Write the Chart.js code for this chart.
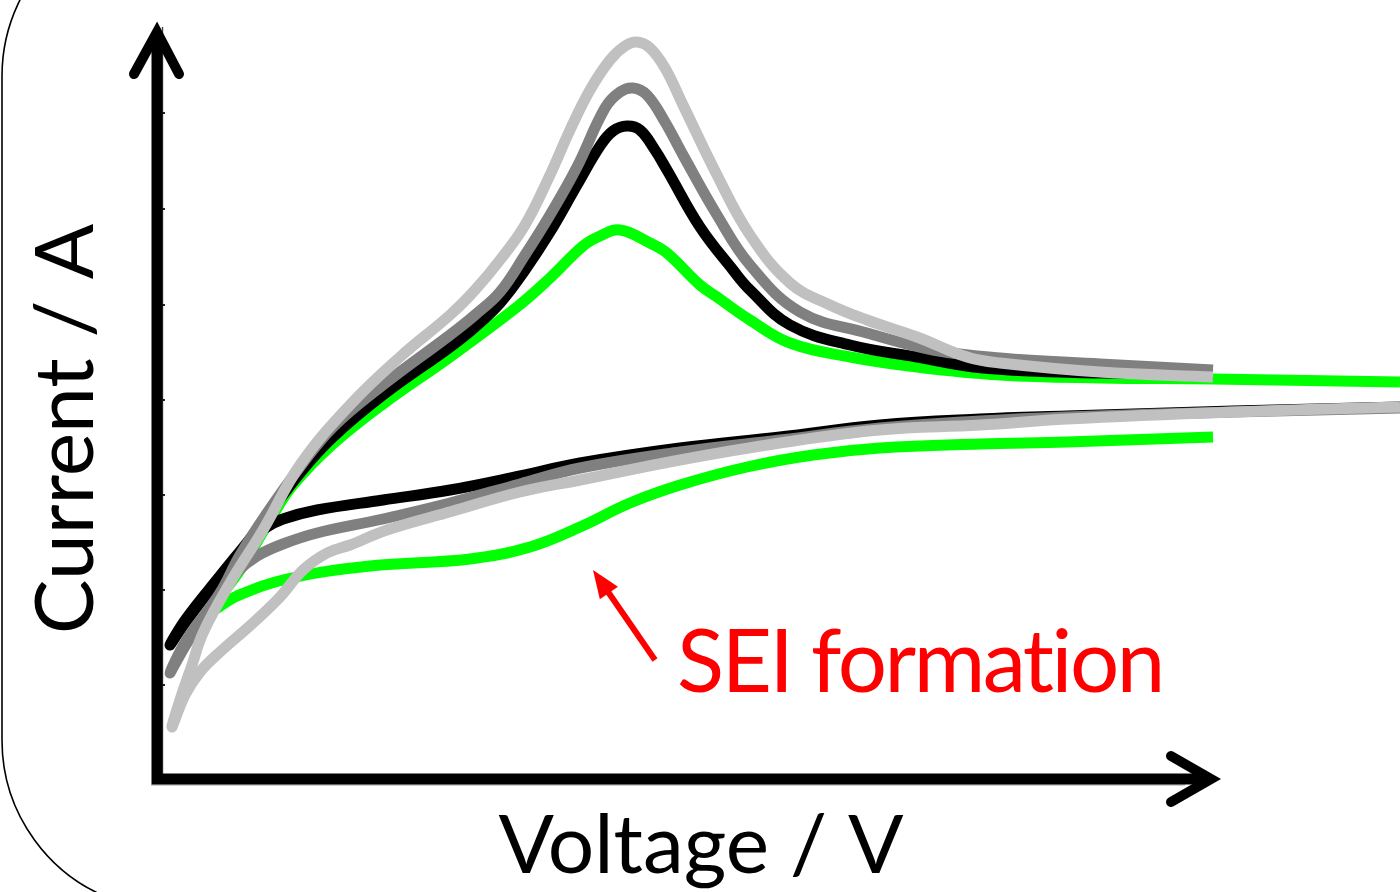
<!DOCTYPE html>
<html>
<head>
<meta charset="utf-8">
<script src="https://cdn.jsdelivr.net/npm/chart.js@4.4.1/dist/chart.umd.min.js"></script>
<style>
  html, body { margin: 0; padding: 0; background: #fff; }
  #wrap { position: relative; width: 1400px; height: 892px; }
</style>
</head>
<body>
<div id="wrap"><canvas id="cv"></canvas></div>
<script>
/* schematic cyclic voltammogram: values in arbitrary units (x: voltage, y: current) */

// each loop: cathodic branch (right -> left) then anodic branch (left -> right)
var lightGrayX = [124.3, 107.6, 91.0, 82.3, 72.3, 62.3, 52.3, 42.3, 36.3, 29.6, 23.0, 19.3, 17.0, 14.6, 12.3, 9.6, 6.3, 4.3, 2.8, 1.5,
  2.3, 3.5, 4.6, 7.3, 10.6, 14.3, 19.3, 24.3, 29.3, 31.8, 34.3, 36.8, 39.3, 41.3, 43.3, 45.3, 46.8, 48.0, 49.3, 50.8, 52.6, 56.0, 59.3, 63.3, 67.3, 71.0, 76.0, 81.0, 84.3, 94.3, 105.6];
var lightGrayY = [37.2, 36.7, 36.0, 35.4, 34.9, 33.6, 31.9, 29.9, 28.7, 26.8, 24.9, 23.4, 22.6, 20.9, 18.2, 15.6, 12.7, 10.7, 8.4, 5.2,
  7.9, 11.4, 14.6, 19.6, 24.9, 31.4, 37.4, 42.2, 46.4, 48.9, 51.9, 55.4, 60.4, 64.9, 68.9, 71.9, 73.3, 73.7, 73.1, 71.1, 67.4, 60.4, 54.4, 49.6, 47.4, 45.9, 44.2, 42.2, 41.6, 40.7, 40.2];

var grayX = [124.3, 107.6, 91.0, 82.3, 72.3, 62.3, 52.3, 42.3, 36.3, 29.3, 22.6, 16.0, 12.6, 10.0, 8.0, 6.3, 3.0, 1.3,
  2.9, 6.3, 8.3, 11.0, 14.3, 17.6, 22.6, 29.3, 31.8, 34.3, 36.8, 39.3, 42.0, 44.8, 46.3, 47.6, 49.0, 50.8, 52.6, 56.0, 59.3, 64.3, 71.0, 77.6, 84.3, 94.3, 105.6];
var grayY = [37.1, 36.7, 36.2, 35.8, 35.1, 33.9, 32.7, 31.1, 29.5, 27.6, 26.0, 24.6, 23.5, 22.3, 20.7, 18.4, 13.6, 10.6,
  13.8, 18.6, 22.4, 26.6, 31.2, 35.2, 39.4, 44.4, 46.4, 48.7, 52.4, 56.4, 61.2, 67.1, 68.7, 69.1, 68.4, 65.7, 62.4, 56.4, 51.4, 46.7, 44.6, 42.9, 42.1, 41.5, 40.9];

var blackX = [124.3, 107.6, 91.0, 82.3, 72.3, 62.3, 52.3, 42.3, 36.3, 29.3, 22.6, 16.0, 12.6, 10.8, 9.3, 6.3, 3.0, 1.3,
  2.9, 6.3, 9.6, 14.3, 17.6, 22.6, 29.3, 31.8, 34.3, 36.8, 39.3, 42.0, 44.3, 45.6, 47.0, 48.3, 49.8, 51.0, 54.3, 57.6, 59.3, 63.3, 69.3, 76.0, 82.6, 94.3, 105.6];
var blackY = [37.2, 36.8, 36.3, 36.0, 35.4, 34.2, 33.1, 31.6, 30.3, 28.9, 27.9, 26.9, 26.0, 25.1, 23.9, 20.2, 15.9, 13.4,
  16.0, 20.3, 24.4, 30.6, 34.2, 38.4, 43.2, 45.2, 47.6, 50.9, 54.7, 59.4, 63.3, 64.8, 65.3, 64.9, 62.9, 60.9, 55.2, 50.9, 48.9, 45.4, 43.4, 42.2, 41.1, 40.6, 40.5];

var greenX = [105.6, 91.0, 82.3, 72.3, 65.6, 59.0, 52.3, 47.3, 42.3, 37.3, 31.3, 21.3, 13.0, 8.0, 5.5,
  8.3, 11.6, 13.6, 17.6, 22.6, 29.3, 36.0, 39.3, 42.6, 44.3, 46.3, 49.3, 51.0, 54.3, 56.0, 59.3, 63.3, 69.3, 76.0, 84.3, 94.3, 105.6, 124.3];
var greenY = [34.2, 33.7, 33.5, 33.1, 32.4, 31.2, 29.4, 27.6, 25.2, 23.2, 22.0, 21.3, 20.0, 18.3, 16.9,
  20.9, 26.4, 29.4, 33.5, 37.5, 42.2, 47.2, 50.1, 53.3, 54.3, 54.9, 53.6, 52.6, 49.4, 48.2, 45.9, 43.6, 42.2, 41.2, 40.4, 40.1, 40.0, 39.7];

// minor tick marks along the current axis
var yTicks = [9.4, 18.9, 28.4, 37.9, 47.4, 57.0, 66.6];

var axisLabelX = "Voltage / V";
var axisLabelY = "Current / A";
var noteText = "SEI formation";

var pts = function (xs, ys) {
  return xs.map(function (x, i) { return { x: x, y: ys[i] }; });
};

var FONT = 'Lato, "Open Sans", sans-serif';

var decor = {
  id: "decor",
  beforeDatasetsDraw: function (chart) {
    var ctx = chart.ctx;
    var xs = chart.scales.x, ys = chart.scales.y;
    var x0 = xs.getPixelForValue(0), y0 = ys.getPixelForValue(0);
    var xEnd = xs.getPixelForValue(105.8), yEnd = ys.getPixelForValue(75.1);
    ctx.save();

    // rounded frame, only its left side is in view
    ctx.strokeStyle = "#000";
    ctx.lineWidth = 1.6;
    ctx.beginPath();
    ctx.arc(172, 76, 170, Math.PI * 1.28, Math.PI, true);
    ctx.lineTo(2, 740);
    ctx.arc(172, 740, 170, Math.PI, Math.PI * 0.6, true);
    ctx.stroke();

    // thin shadow lines beside the axes
    ctx.lineWidth = 1.4;
    ctx.strokeStyle = "#444";
    ctx.beginPath();
    ctx.moveTo(x0 + 5.5, yEnd - 1);
    ctx.lineTo(x0 + 5.5, y0);
    ctx.stroke();
    ctx.strokeStyle = "#bbb";
    ctx.beginPath();
    ctx.moveTo(x0 - 6, y0 + 6);
    ctx.lineTo(xEnd - 30, y0 + 6);
    ctx.stroke();

    ctx.strokeStyle = "#222";
    ctx.lineWidth = 2;
    yTicks.forEach(function (v) {
      var py = ys.getPixelForValue(v);
      ctx.beginPath();
      ctx.moveTo(x0 + 5, py);
      ctx.lineTo(x0 + 8, py);
      ctx.stroke();
    });
    ctx.restore();
  },
  afterDatasetsDraw: function (chart) {
    var ctx = chart.ctx;
    var xs = chart.scales.x, ys = chart.scales.y;
    var x0 = xs.getPixelForValue(0), y0 = ys.getPixelForValue(0);
    var xEnd = xs.getPixelForValue(105.8), yEnd = ys.getPixelForValue(75.1);
    ctx.save();

    // axes
    ctx.strokeStyle = "#000";
    ctx.lineWidth = 11;
    ctx.lineCap = "butt";
    ctx.beginPath();
    ctx.moveTo(x0, y0 + 5.5);
    ctx.lineTo(x0, yEnd + 6);
    ctx.moveTo(x0 - 5.5, y0);
    ctx.lineTo(xEnd - 6, y0);
    ctx.stroke();

    // open arrow heads
    ctx.lineCap = "round";
    ctx.lineJoin = "miter";
    ctx.lineWidth = 10;
    ctx.beginPath();
    ctx.moveTo(x0 - 23, yEnd + 46);
    ctx.lineTo(x0, yEnd + 4);
    ctx.lineTo(x0 + 22, yEnd + 46);
    ctx.stroke();
    ctx.beginPath();
    ctx.moveTo(xEnd - 44, y0 - 23);
    ctx.lineTo(xEnd - 4, y0);
    ctx.lineTo(xEnd - 44, y0 + 23);
    ctx.stroke();

    // axis titles
    ctx.fillStyle = "#000";
    ctx.font = "82px " + FONT;
    ctx.textAlign = "center";
    ctx.textBaseline = "alphabetic";
    ctx.fillText(axisLabelX, 701, 873);
    ctx.save();
    ctx.translate(93, 429);
    ctx.rotate(-Math.PI / 2);
    ctx.fillText(axisLabelY, 0, 0);
    ctx.restore();

    // SEI annotation
    var ax = xs.getPixelForValue(49.8), ay = ys.getPixelForValue(11.9);
    var tx = xs.getPixelForValue(43.6), ty = ys.getPixelForValue(20.9);
    var ang = Math.atan2(ty - ay, tx - ax);
    ctx.strokeStyle = "#ff0000";
    ctx.fillStyle = "#ff0000";
    ctx.lineWidth = 6;
    ctx.lineCap = "butt";
    ctx.beginPath();
    ctx.moveTo(ax, ay);
    ctx.lineTo(tx - 20 * Math.cos(ang), ty - 20 * Math.sin(ang));
    ctx.stroke();
    ctx.beginPath();
    ctx.moveTo(tx, ty);
    ctx.lineTo(tx - 28 * Math.cos(ang) + 11 * Math.sin(ang), ty - 28 * Math.sin(ang) - 11 * Math.cos(ang));
    ctx.lineTo(tx - 28 * Math.cos(ang) - 11 * Math.sin(ang), ty - 28 * Math.sin(ang) + 11 * Math.cos(ang));
    ctx.closePath();
    ctx.fill();
    ctx.font = "87px " + FONT;
    ctx.textAlign = "left";
    ctx.letterSpacing = "-2.5px";   // also keeps "ti" from forming a ligature
    ctx.fillText(noteText, 677, 692);
    ctx.restore();
  }
};

var line = function (data, color) {
  return {
    data: data,
    showLine: true,
    borderColor: color,
    backgroundColor: color,
    borderWidth: 11,
    borderCapStyle: "butt",
    borderJoinStyle: "round",
    pointRadius: 0,
    pointHoverRadius: 0,
    tension: 0.4,
    fill: false
  };
};

new Chart(document.getElementById("cv"), {
  type: "scatter",
  data: {
    datasets: [
      line(pts(lightGrayX, lightGrayY), "#c0c0c0"),
      line(pts(grayX, grayY), "#808080"),
      line(pts(blackX, blackY), "#000000"),
      line(pts(greenX, greenY), "#00ff00")
    ]
  },
  options: {
    responsive: true,
    maintainAspectRatio: false,
    animation: false,
    events: [],
    layout: { padding: { left: 157, right: 0, top: 0, bottom: 113 } },
    plugins: { legend: { display: false }, tooltip: { enabled: false } },
    scales: {
      x: { type: "linear", display: false, min: 0, max: 124.3 },
      y: { type: "linear", display: false, min: 0, max: 77.9 }
    }
  },
  plugins: [decor]
});
</script>
</body>
</html>
